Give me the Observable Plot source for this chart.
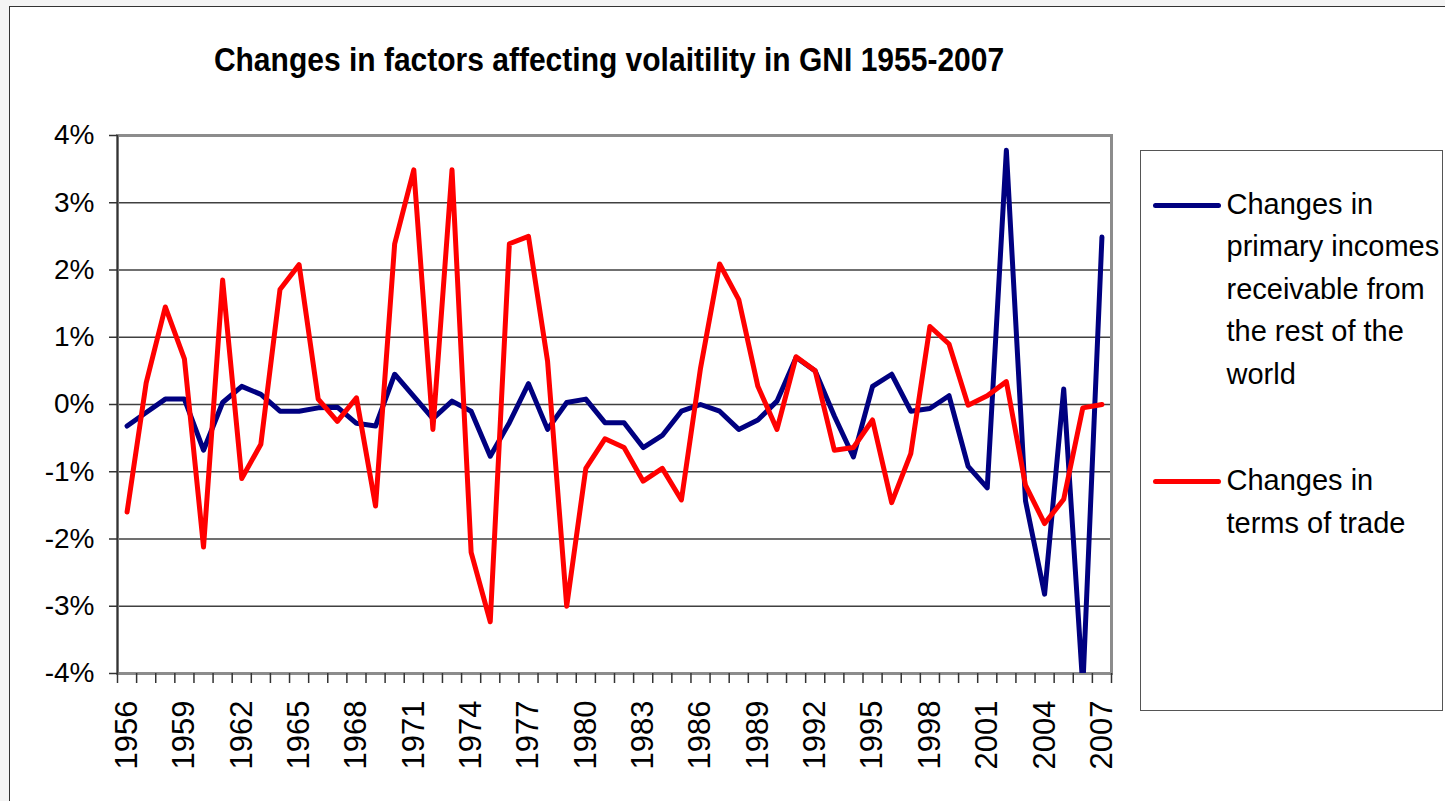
<!DOCTYPE html>
<html><head><meta charset="utf-8">
<script src="https://cdn.jsdelivr.net/npm/d3@7"></script>
<script src="https://cdn.jsdelivr.net/npm/@observablehq/plot@0.6"></script>
<style>
html,body{margin:0;padding:0;background:#f4f4f4;width:1445px;height:801px;overflow:hidden;font-family:"Liberation Sans",Arial,sans-serif;}
#frame{position:absolute;left:9px;top:6px;width:1500px;height:900px;background:#fff;border:1.5px solid #333;}
#chart{position:absolute;left:0;top:0;}
#title{position:absolute;left:0;width:1218px;top:46px;text-align:center;font-weight:bold;font-size:30px;line-height:30px;color:#000;white-space:nowrap;transform:scaleY(1.08);transform-origin:50% 84%;}
#legend{position:absolute;left:1140px;top:150px;width:301px;height:559px;border:1.5px solid #555;background:#fff;}
.entry{position:absolute;left:85.5px;font-size:29px;line-height:42.5px;white-space:nowrap;color:#000;}
.swatch{position:absolute;left:11.5px;width:68px;height:5px;border-radius:2.5px;}
</style>
</head>
<body>
<div id="frame"></div>
<div id="chart"></div>
<div id="title">Changes in factors affecting volaitility in GNI 1955-2007</div>
<div id="legend">
  <div class="swatch" style="top:51.5px;background:#000080"></div>
  <div class="entry" style="top:31.9px">Changes in<br>primary incomes<br>receivable from<br>the rest of the<br>world</div>
  <div class="swatch" style="top:327.6px;background:#ff0000"></div>
  <div class="entry" style="top:308.4px">Changes in<br>terms of trade</div>
</div>
<script>
const years = [1956,1957,1958,1959,1960,1961,1962,1963,1964,1965,1966,1967,1968,1969,1970,1971,1972,1973,1974,1975,1976,1977,1978,1979,1980,1981,1982,1983,1984,1985,1986,1987,1988,1989,1990,1991,1992,1993,1994,1995,1996,1997,1998,1999,2000,2001,2002,2003,2004,2005,2006,2007];

// Changes in primary incomes receivable from the rest of the world (%)
const primaryIncomes = [-0.32,-0.12,0.08,0.08,-0.68,0.03,0.27,0.15,-0.10,-0.10,-0.05,-0.04,-0.28,-0.32,0.45,0.12,-0.21,0.05,-0.10,-0.77,-0.27,0.31,-0.37,0.03,0.08,-0.27,-0.27,-0.64,-0.46,-0.10,0.00,-0.10,-0.37,-0.23,0.05,0.70,0.50,-0.17,-0.78,0.27,0.45,-0.10,-0.06,0.13,-0.92,-1.24,3.78,-1.43,-2.82,0.23,-4.2,2.49];

// Changes in terms of trade (%)
const termsOfTrade = [-1.60,0.32,1.45,0.68,-2.12,1.85,-1.10,-0.59,1.71,2.08,0.08,-0.25,0.10,-1.51,2.39,3.49,-0.37,3.49,-2.20,-3.23,2.39,2.50,0.64,-3.00,-0.95,-0.51,-0.64,-1.14,-0.95,-1.42,0.54,2.09,1.56,0.27,-0.37,0.71,0.50,-0.68,-0.64,-0.23,-1.46,-0.73,1.16,0.90,-0.01,0.13,0.34,-1.20,-1.77,-1.41,-0.05,0.00];

const xTickYears = [1956,1959,1962,1965,1968,1971,1974,1977,1980,1983,1986,1989,1992,1995,1998,2001,2004,2007];
const yTicks = [-4,-3,-2,-1,0,1,2,3,4];

const boundaries = [years[0] - 0.5, ...years.map(y => y + 0.5)];
const seriesA = years.map((y, i) => [y, primaryIncomes[i]]);
const seriesB = years.map((y, i) => [y, termsOfTrade[i]]);

const chart = Plot.plot({
  width: 1445,
  height: 801,
  marginLeft: 117,
  marginRight: 334,
  marginTop: 135,
  marginBottom: 128,
  style: {background: "transparent", fontFamily: "'Liberation Sans', Arial, sans-serif", color: "#000", overflow: "visible"},
  x: {type: "linear", domain: [boundaries[0], boundaries[boundaries.length - 1]]},
  y: {domain: [-4, 4]},
  marks: [
    Plot.gridY(yTicks, {stroke: "#404040", strokeOpacity: 1, strokeWidth: 1.5}),
    Plot.frame({stroke: "#8c8c8c", strokeWidth: 3}),
    Plot.ruleX([boundaries[0]], {stroke: "#333", strokeWidth: 1.5}),
    Plot.axisY({ticks: yTicks, tickSize: 8, tickPadding: 15, tickFormat: d => d + "%", fontSize: 28, label: null, stroke: "#333", strokeWidth: 1.5}),
    Plot.axisX({ticks: boundaries, tickSize: 10, tickFormat: () => "", label: null, stroke: "#333", strokeWidth: 1.5}),
    Plot.axisX({ticks: xTickYears, tickSize: 0, tickPadding: 27, tickRotate: -90, fontSize: 31, tickFormat: d => String(d), label: null}),
    Plot.line(seriesA, {stroke: "#000080", strokeWidth: 5, clip: true}),
    Plot.line(seriesB, {stroke: "#ff0000", strokeWidth: 5, clip: true})
  ]
});
document.getElementById("chart").appendChild(chart);
</script>
</body></html>
